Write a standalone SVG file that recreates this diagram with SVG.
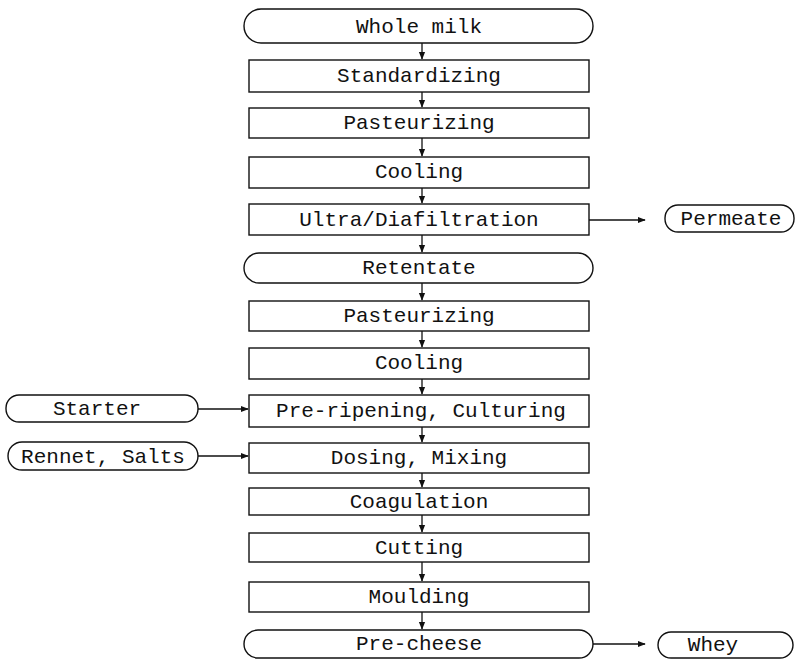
<svg xmlns="http://www.w3.org/2000/svg" width="796" height="659" viewBox="0 0 796 659">
<style>
.b{fill:#fff;stroke:#111;stroke-width:1.4}
.t{font-family:"Liberation Mono","Courier New",monospace;font-size:21px;fill:#111;text-anchor:middle}
.c{stroke:#111;stroke-width:1.3;fill:none}
</style>
<defs>
<marker id="a" viewBox="0 0 10 10" refX="9" refY="5" markerWidth="8" markerHeight="8" markerUnits="userSpaceOnUse" orient="auto">
<path d="M0,1 L10,5 L0,9 Z" fill="#111"/>
</marker>
</defs>
<rect width="796" height="659" fill="#fff"/>
<g id="connectors">
<line class="c" x1="422" y1="43" x2="422" y2="59" marker-end="url(#a)"/>
<line class="c" x1="422" y1="92" x2="422" y2="107" marker-end="url(#a)"/>
<line class="c" x1="422" y1="138" x2="422" y2="156" marker-end="url(#a)"/>
<line class="c" x1="422" y1="188" x2="422" y2="203" marker-end="url(#a)"/>
<line class="c" x1="422" y1="235" x2="422" y2="252" marker-end="url(#a)"/>
<line class="c" x1="422" y1="283" x2="422" y2="300" marker-end="url(#a)"/>
<line class="c" x1="422" y1="331" x2="422" y2="347" marker-end="url(#a)"/>
<line class="c" x1="422" y1="379" x2="422" y2="394" marker-end="url(#a)"/>
<line class="c" x1="422" y1="427" x2="422" y2="442" marker-end="url(#a)"/>
<line class="c" x1="422" y1="473" x2="422" y2="487" marker-end="url(#a)"/>
<line class="c" x1="422" y1="515" x2="422" y2="532" marker-end="url(#a)"/>
<line class="c" x1="422" y1="562" x2="422" y2="581" marker-end="url(#a)"/>
<line class="c" x1="422" y1="612" x2="422" y2="629" marker-end="url(#a)"/>
<line class="c" x1="589" y1="220" x2="645" y2="220" marker-end="url(#a)"/>
<line class="c" x1="593" y1="644" x2="645" y2="644" marker-end="url(#a)"/>
<line class="c" x1="198" y1="409" x2="248" y2="409" marker-end="url(#a)"/>
<line class="c" x1="198" y1="456" x2="248" y2="456" marker-end="url(#a)"/>
</g>
<g id="n-wholemilk"><rect class="b" x="244" y="9" width="349" height="34" rx="17" ry="17"/><text class="t" x="419" y="33">Whole milk</text></g>
<g id="n-standardizing"><rect class="b" x="249" y="60" width="340" height="32"/><text class="t" x="419" y="82">Standardizing</text></g>
<g id="n-pasteurizing1"><rect class="b" x="249" y="108" width="340" height="30"/><text class="t" x="419" y="129">Pasteurizing</text></g>
<g id="n-cooling1"><rect class="b" x="249" y="157" width="340" height="31"/><text class="t" x="419" y="178">Cooling</text></g>
<g id="n-ultra"><rect class="b" x="249" y="204" width="340" height="31"/><text class="t" x="419" y="226">Ultra/Diafiltration</text></g>
<g id="n-retentate"><rect class="b" x="244" y="253" width="349" height="30" rx="15" ry="15"/><text class="t" x="419" y="274">Retentate</text></g>
<g id="n-pasteurizing2"><rect class="b" x="249" y="301" width="340" height="30"/><text class="t" x="419" y="322">Pasteurizing</text></g>
<g id="n-cooling2"><rect class="b" x="249" y="348" width="340" height="31"/><text class="t" x="419" y="369">Cooling</text></g>
<g id="n-preripening"><rect class="b" x="249" y="395" width="340" height="32"/><text class="t" x="421" y="417">Pre-ripening, Culturing</text></g>
<g id="n-dosing"><rect class="b" x="249" y="443" width="340" height="30"/><text class="t" x="419" y="464">Dosing, Mixing</text></g>
<g id="n-coagulation"><rect class="b" x="249" y="488" width="340" height="27"/><text class="t" x="419" y="508">Coagulation</text></g>
<g id="n-cutting"><rect class="b" x="249" y="533" width="340" height="29"/><text class="t" x="419" y="554">Cutting</text></g>
<g id="n-moulding"><rect class="b" x="249" y="582" width="340" height="30"/><text class="t" x="419" y="603">Moulding</text></g>
<g id="n-precheese"><rect class="b" x="244" y="630" width="349" height="28" rx="14" ry="14"/><text class="t" x="419" y="650">Pre-cheese</text></g>
<g id="n-permeate"><rect class="b" x="665" y="205" width="129" height="27" rx="13" ry="13"/><text class="t" x="731" y="225">Permeate</text></g>
<g id="n-whey"><rect class="b" x="658" y="632" width="135" height="26" rx="13" ry="13"/><text class="t" x="713" y="651">Whey</text></g>
<g id="n-starter"><rect class="b" x="6" y="395" width="192" height="27" rx="13" ry="13"/><text class="t" x="97" y="415">Starter</text></g>
<g id="n-rennet"><rect class="b" x="8" y="442" width="190" height="28" rx="14" ry="14"/><text class="t" x="103" y="463">Rennet, Salts</text></g>
</svg>
